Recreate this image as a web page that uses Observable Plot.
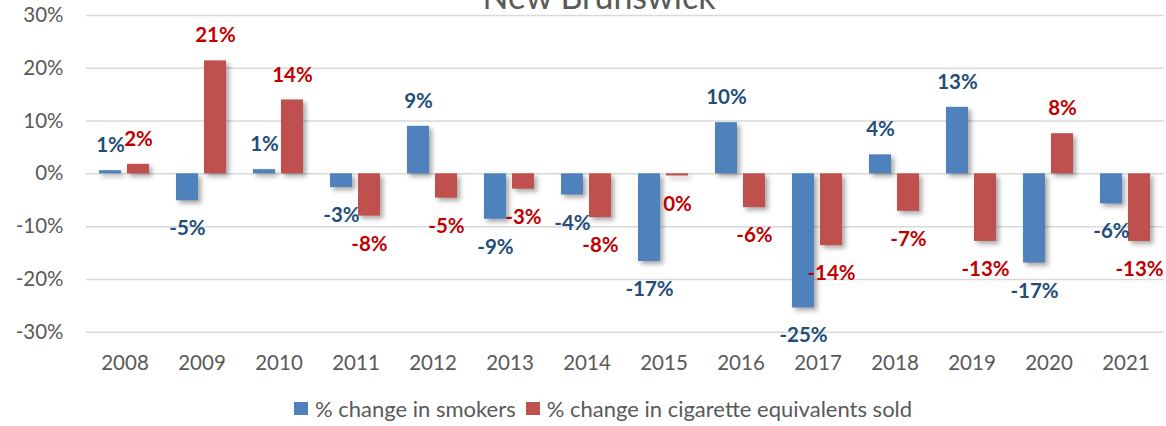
<!DOCTYPE html>
<html>
<head>
<meta charset="utf-8">
<script src="https://cdn.jsdelivr.net/npm/d3@7"></script>
<script src="https://cdn.jsdelivr.net/npm/@observablehq/plot@0.6"></script>
<style>
  html, body { margin: 0; padding: 0; background: white; overflow: hidden; }
  #wrap { position: relative; width: 1166px; height: 426px; overflow: hidden; font-family: Lato, sans-serif; color: #595959; }
  #title { position: absolute; left: 0; top: 0; }
  #chart { position: absolute; left: 0; top: 0; }
  #legend { position: absolute; left: 294px; top: 396px; height: 24px; display: flex; align-items: center; font-size: 22px; white-space: nowrap; }
  #legend .sw { width: 14px; height: 13px; margin-right: 7px; }
  #legend .item { display: flex; align-items: center; margin-right: 10px; }
  g[aria-label="bar"] rect { filter: drop-shadow(3px 3px 2.5px rgba(0,0,0,0.35)); }
</style>
</head>
<body>
<div id="wrap">
  <div id="chart"></div>
  <svg id="title" width="1166" height="30"><text x="599" y="9" text-anchor="middle" font-family="Lato, sans-serif" font-size="34" fill="#595959">New Brunswick</text></svg>
  <div id="legend"></div>
</div>
<script>
const years = [2008, 2009, 2010, 2011, 2012, 2013, 2014, 2015, 2016, 2017, 2018, 2019, 2020, 2021];
const seriesNames = ["% change in smokers", "% change in cigarette equivalents sold"];
const smokers =    [0.6, -5.1, 0.8, -2.6, 9.0, -8.6, -4.0, -16.6, 9.7, -25.4, 3.6, 12.6, -16.9, -5.7];
const cigarettes = [1.8, 21.4, 14.0, -8.0, -4.6, -2.9, -8.3, -0.4, -6.4, -13.6, -7.1, -12.8, 7.6, -12.8];
const yTicks = [-30, -20, -10, 0, 10, 20, 30];
const barColors = ["#4F81BD", "#C0504D"];
const labelColors = ["#1F4E79", "#C00000"];

const table = years.flatMap((year, i) => [
  {year, series: seriesNames[0], value: smokers[i]},
  {year, series: seriesNames[1], value: cigarettes[i]}
]);
const pct = v => (Math.round(v) || 0) + "%";

const labelMarks = seriesNames.flatMap((s, k) => [
  Plot.text(table, {filter: d => d.series === s && d.value >= 0, x: "series", y: "value", text: d => pct(d.value), dy: -25, fill: labelColors[k], fontWeight: "bold", fontSize: 20.5}),
  Plot.text(table, {filter: d => d.series === s && d.value < 0, x: "series", y: "value", text: d => pct(d.value), dy: 28, fill: labelColors[k], fontWeight: "bold", fontSize: 20.5})
]);

const chart = Plot.plot({
  width: 1166,
  height: 380,
  marginTop: 15,
  marginBottom: 48.3,
  marginLeft: 85,
  marginRight: 1,
  style: {fontFamily: "Lato, sans-serif", fontSize: "20.5px", color: "#595959", background: "white"},
  facet: {data: table, x: "year"},
  fx: {domain: years, padding: 0, label: null, tickSize: 0, tickPadding: 23, axis: "bottom", tickFormat: d => String(d)},
  x: {domain: seriesNames, paddingInner: 0.2, paddingOuter: 0.468, axis: null},
  y: {domain: [-30, 30], ticks: yTicks, tickFormat: d => d + "%", tickSize: 0, tickPadding: 23, label: null},
  color: {domain: seriesNames, range: barColors},
  marks: [
    Plot.ruleY(yTicks, {stroke: "#D9D9D9", strokeWidth: 1.5}),
    Plot.barY(table, {x: "series", y: "value", fill: "series"}),
    ...labelMarks
  ]
});
document.getElementById("chart").appendChild(chart);

const legend = document.getElementById("legend");
seriesNames.forEach((s, k) => {
  const item = document.createElement("div");
  item.className = "item";
  const sw = document.createElement("div");
  sw.className = "sw";
  sw.style.background = barColors[k];
  const t = document.createElement("span");
  t.textContent = s;
  item.appendChild(sw);
  item.appendChild(t);
  legend.appendChild(item);
});
</script>
</body>
</html>
